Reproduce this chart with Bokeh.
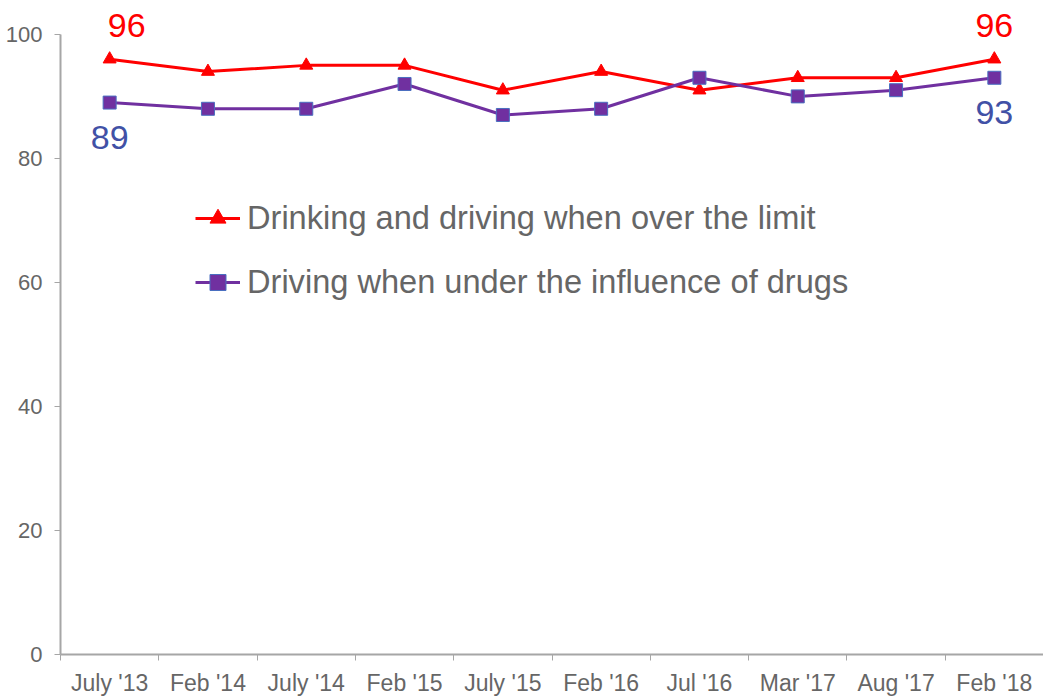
from bokeh.plotting import figure
from bokeh.models import ColumnDataSource, FixedTicker, Legend, LegendItem, Label
from bokeh.embed import file_html
from bokeh.resources import INLINE

periods = ["July '13", "Feb '14", "July '14", "Feb '15", "July '15",
           "Feb '16", "Jul '16", "Mar '17", "Aug '17", "Feb '18"]
drink = [96, 94, 95, 95, 91, 94, 91, 93, 93, 96]
drugs = [89, 88, 88, 92, 87, 88, 93, 90, 91, 93]
y_ticks = [0, 20, 40, 60, 80, 100]

FONT = "Liberation Sans"
xs = [i + 0.5 for i in range(len(periods))]

# frame extends above 100 so the end labels are not clipped; the axis stops at 100
p = figure(width=1043, height=698, x_range=(0, len(periods)), y_range=(0, 105.3),
           output_backend="svg", toolbar_location=None,
           min_border_left=60, min_border_right=0, min_border_top=1, min_border_bottom=41)
p.outline_line_color = None
p.xgrid.visible = False
p.ygrid.visible = False

src = ColumnDataSource(dict(x=xs, drink=drink, drugs=drugs))

l1 = p.line("x", "drink", source=src, line_color="#ff0000", line_width=3)
m1 = p.scatter("x", "drink", source=src, marker="triangle", size=13,
               fill_color="#ff0000", line_color="#ff0000")
l2 = p.line("x", "drugs", source=src, line_color="#7030a0", line_width=3)
m2 = p.scatter("x", "drugs", source=src, marker="square", size=13,
               fill_color="#7030a0", line_color="#4a6fc0", line_width=1)

# end labels
i0, i1 = 0, len(periods) - 1
for idx, dx in ((i0, 17), (i1, 0)):
    p.add_layout(Label(x=xs[idx], y=drink[idx], text=str(drink[idx]), x_offset=dx, y_offset=34,
                       text_align="center", text_baseline="middle", text_color="#ff0000",
                       text_font=FONT, text_font_size="34px"))
    p.add_layout(Label(x=xs[idx], y=drugs[idx], text=str(drugs[idx]), x_offset=0, y_offset=-35,
                       text_align="center", text_baseline="middle", text_color="#4151a6",
                       text_font=FONT, text_font_size="34px"))

# axes
xa = p.xaxis[0]
xa.ticker = FixedTicker(ticks=xs, minor_ticks=list(range(len(periods) + 1)))
xa.major_label_overrides = {x: lab for x, lab in zip(xs, periods)}
xa.major_tick_line_color = None
xa.minor_tick_out = 6
xa.minor_tick_in = 0
xa.minor_tick_line_color = "#a6a6a6"
xa.axis_line_color = "#a6a6a6"
xa.axis_line_width = 2
xa.major_label_text_font = FONT
xa.major_label_text_font_size = "23px"
xa.major_label_text_color = "#666666"
xa.major_label_standoff = 9

ya = p.yaxis[0]
ya.ticker = FixedTicker(ticks=y_ticks, minor_ticks=[])
ya.bounds = (0, 100)
ya.axis_line_color = "#a6a6a6"
ya.axis_line_width = 2
ya.major_tick_line_color = "#a6a6a6"
ya.major_tick_out = 6
ya.major_tick_in = 0
ya.major_label_text_font = FONT
ya.major_label_text_font_size = "22px"
ya.major_label_text_color = "#666666"
ya.major_label_standoff = 12

legend = Legend(items=[
    LegendItem(label="Drinking and driving when over the limit", renderers=[l1, m1]),
    LegendItem(label="Driving when under the influence of drugs", renderers=[l2, m2]),
], location=(135, 352))
legend.border_line_color = None
legend.background_fill_alpha = 0
legend.padding = 0
legend.margin = 0
legend.glyph_width = 45
legend.glyph_height = 40
legend.label_height = 40
legend.spacing = 24
legend.label_standoff = 7
legend.label_text_font = FONT
legend.label_text_font_size = "32.6px"
legend.label_text_color = "#666666"
p.add_layout(legend, "center")

open("out.html", "w").write(file_html(p, INLINE))
